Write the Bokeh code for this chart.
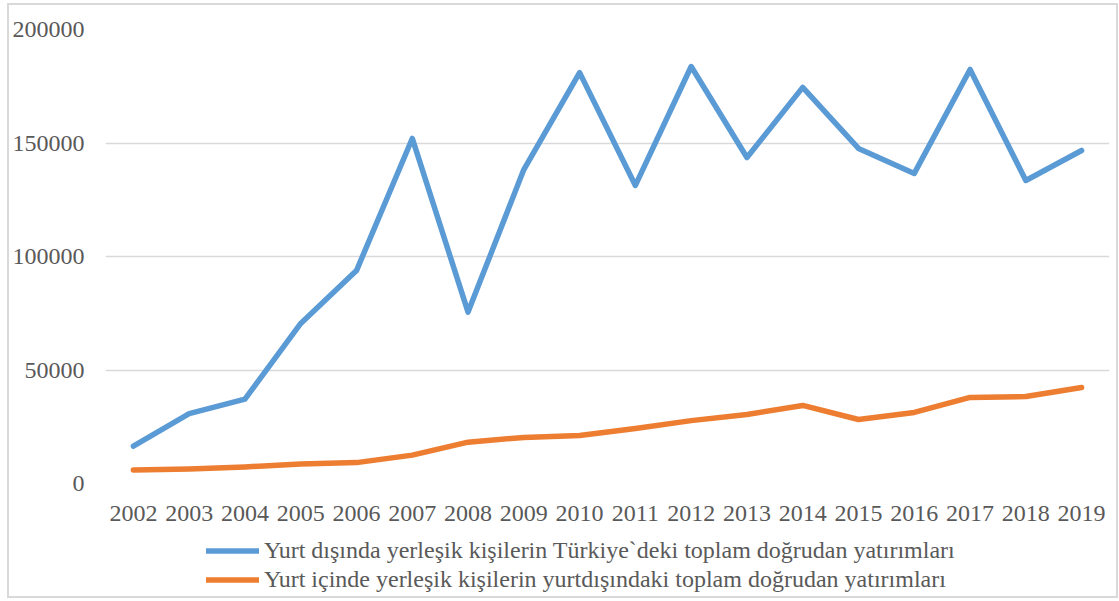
from bokeh.plotting import figure
from bokeh.models import Range1d, FactorRange, FixedTicker, BasicTickFormatter, Legend, LegendItem
from bokeh.layouts import column
from bokeh.embed import file_html
from bokeh.resources import INLINE

years = [str(y) for y in range(2002, 2020)]
foreign_in_turkey = [16500, 30800, 37200, 70500, 93800, 152000, 75500, 138300, 181000,
                     131300, 183700, 143600, 174500, 147600, 136600, 182400, 133500, 146700]
turkish_abroad = [6000, 6400, 7300, 8600, 9200, 12500, 18200, 20300, 21100,
                  24200, 27700, 30400, 34400, 28200, 31300, 37900, 38300, 42300]
label_1 = "Yurt dışında yerleşik kişilerin Türkiye`deki toplam doğrudan yatırımları"
label_2 = "Yurt içinde yerleşik kişilerin yurtdışındaki toplam doğrudan yatırımları"
y_ticks = [0, 50000, 100000, 150000, 200000]

FONT = "Liberation Serif"
TXT = "#595959"
BLUE = "#5b9bd5"
ORANGE = "#ed7d31"

p = figure(x_range=FactorRange(*years, range_padding=0), y_range=Range1d(0, 200000),
           width=1107, height=523,
           min_border_left=96, min_border_right=7, min_border_top=24, min_border_bottom=45,
           output_backend="svg", toolbar_location=None)
p.outline_line_color = None
p.background_fill_color = "white"
p.border_fill_color = "white"

p.xgrid.grid_line_color = None
p.ygrid.grid_line_color = "#d9d9d9"
p.ygrid.grid_line_width = 1.5
p.ygrid.ticker = FixedTicker(ticks=y_ticks)

p.yaxis.ticker = FixedTicker(ticks=y_ticks)
p.yaxis.formatter = BasicTickFormatter(use_scientific=False)
for ax in (p.xaxis[0], p.yaxis[0]):
    ax.axis_line_color = None
    ax.major_tick_line_color = None
    ax.minor_tick_line_color = None
    ax.major_label_text_font = FONT
    ax.major_label_text_font_size = "24px"
    ax.major_label_text_color = TXT
p.yaxis.major_label_standoff = 15
p.xaxis.major_label_standoff = 16

p.line(years, foreign_in_turkey, line_color=BLUE, line_width=5.5,
       line_join="round", line_cap="round")
p.line(years, turkish_abroad, line_color=ORANGE, line_width=5.5,
       line_join="round", line_cap="round")

# legend strip below the chart (series drawn hidden, only used as legend keys)
lg = figure(width=1107, height=68, x_range=FactorRange(*years, range_padding=0),
            y_range=Range1d(0, 200000),
            x_axis_type=None, y_axis_type=None,
            min_border_left=0, min_border_right=0, min_border_top=0, min_border_bottom=0,
            output_backend="svg", toolbar_location=None)
lg.outline_line_color = None
lg.grid.visible = False
lg.background_fill_color = "white"
lg.border_fill_color = "white"
k1 = lg.line(years, foreign_in_turkey, line_color=BLUE, line_width=5.5, line_cap="round",
             visible=False)
k2 = lg.line(years, turkish_abroad, line_color=ORANGE, line_width=5.5, line_cap="round",
             visible=False)

legend = Legend(items=[LegendItem(label=label_1, renderers=[k1]),
                       LegendItem(label=label_2, renderers=[k2])],
                orientation="vertical", location=(101, 2))
legend.label_text_font = FONT
legend.label_text_font_size = "24px"
legend.label_text_color = TXT
legend.glyph_width = 53
legend.glyph_height = 29
legend.label_height = 29
legend.spacing = 0
legend.padding = 0
legend.margin = 0
legend.label_standoff = 5
legend.border_line_color = None
legend.background_fill_alpha = 0
legend.inactive_fill_alpha = 0
legend.click_policy = "none"
lg.add_layout(legend, "center")

layout = column(p, lg, width=1111, height=595, spacing=0)
layout.styles = {"border": "2px solid #d9d9d9", "margin-left": "7px", "margin-top": "3px",
                 "background-color": "white"}

open("out.html", "w").write(file_html(layout, INLINE))
